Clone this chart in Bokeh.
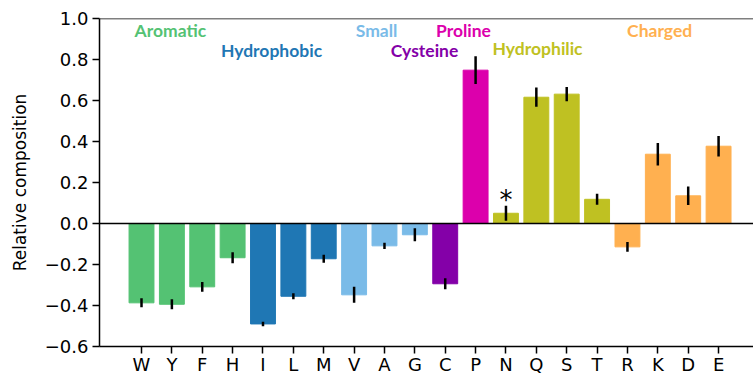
from bokeh.plotting import figure
from bokeh.models import Span, FixedTicker, ColumnDataSource
from bokeh.core.properties import value
from bokeh.embed import file_html
from bokeh.resources import INLINE

residues = ["W", "Y", "F", "H", "I", "L", "M", "V", "A", "G", "C", "P", "N", "Q", "S", "T", "R", "K", "D", "E"]
values = [-0.387, -0.394, -0.309, -0.167, -0.490, -0.355, -0.172, -0.348, -0.109, -0.055,
          -0.294, 0.748, 0.050, 0.616, 0.631, 0.118, -0.114, 0.338, 0.135, 0.377]
errors = [0.022, 0.024, 0.024, 0.027, 0.011, 0.015, 0.019, 0.039, 0.015, 0.032,
          0.027, 0.068, 0.037, 0.047, 0.035, 0.027, 0.024, 0.055, 0.045, 0.050]
groups = ["Aromatic"] * 4 + ["Hydrophobic"] * 3 + ["Small"] * 3 + ["Cysteine"] + ["Proline"] + \
         ["Hydrophilic"] * 4 + ["Charged"] * 4
group_names = ["Aromatic", "Hydrophobic", "Small", "Cysteine", "Proline", "Hydrophilic", "Charged"]
group_colors = ["#54c273", "#1f77b4", "#7abbe8", "#8400a8", "#dc00ac", "#bfc122", "#ffb050"]
group_label_x = [0.95, 4.28, 7.74, 9.32, 10.6, 13.04, 17.06]
group_label_y = [0.94, 0.845, 0.94, 0.845, 0.94, 0.855, 0.94]
y_ticks = [-0.6, -0.4, -0.2, 0.0, 0.2, 0.4, 0.6, 0.8, 1.0]
significant = ["N"]

color_of = dict(zip(group_names, group_colors))
xs = list(range(len(residues)))
src = ColumnDataSource(dict(
    x=xs, top=values, color=[color_of[g] for g in groups],
    lo=[v - e for v, e in zip(values, errors)],
    hi=[v + e for v, e in zip(values, errors)],
))

p = figure(width=753, height=377, output_backend="svg", toolbar_location=None,
           x_range=(-1.383, 20.15), y_range=(-0.6, 1.0),
           min_border_left=99, min_border_top=18, min_border_right=0, min_border_bottom=31)
p.outline_line_color = None
p.grid.visible = False
p.background_fill_color = "white"
p.border_fill_color = "white"

p.vbar(x="x", top="top", bottom=0, width=0.82, color="color", source=src)
p.segment(x0="x", y0="lo", x1="x", y1="hi", line_color="black", line_width=2.5, source=src)

p.add_layout(Span(location=0, dimension="width", line_color="black", line_width=1.5))
p.add_layout(Span(location=1.0, dimension="width", line_color="black", line_width=1.5))

for name, col, gx, gy in zip(group_names, group_colors, group_label_x, group_label_y):
    p.text(x=[gx], y=[gy], text=[name], text_color=col, text_font=value("Lato"),
           text_font_style="bold", text_font_size="17.5px", text_align="center",
           text_baseline="middle")

for r in significant:
    i = residues.index(r)
    p.text(x=[i], y=[values[i] + errors[i] + 0.03], text=["*"], text_color="black",
           text_font=value("DejaVu Sans"), text_font_size="26px", text_align="center",
           text_baseline="middle")

p.xaxis.ticker = FixedTicker(ticks=xs)
p.xaxis.major_label_overrides = {i: r for i, r in enumerate(residues)}
p.yaxis.ticker = FixedTicker(ticks=y_ticks)
p.yaxis.major_label_overrides = {t: ("%.1f" % t).replace("-", "\u2212") for t in y_ticks}
p.yaxis.axis_label = "Relative composition"

for ax in (p.xaxis[0], p.yaxis[0]):
    ax.axis_line_color = "black"
    ax.axis_line_width = 1.5
    ax.major_tick_line_color = "black"
    ax.major_tick_line_width = 1.5
    ax.major_tick_out = 7
    ax.major_tick_in = 0
    ax.minor_tick_line_color = None
    ax.major_label_text_font = "DejaVu Sans"
    ax.major_label_text_font_size = "18px"
    ax.major_label_text_color = "black"
    ax.major_label_standoff = 4
p.xaxis.major_label_standoff = 0
p.yaxis.axis_label_text_font = "DejaVu Sans"
p.yaxis.axis_label_text_font_size = "17px"
p.yaxis.axis_label_text_font_style = "normal"
p.yaxis.axis_label_text_color = "black"
p.yaxis.axis_label_standoff = 12

open("out.html", "w").write(file_html(p, INLINE))
